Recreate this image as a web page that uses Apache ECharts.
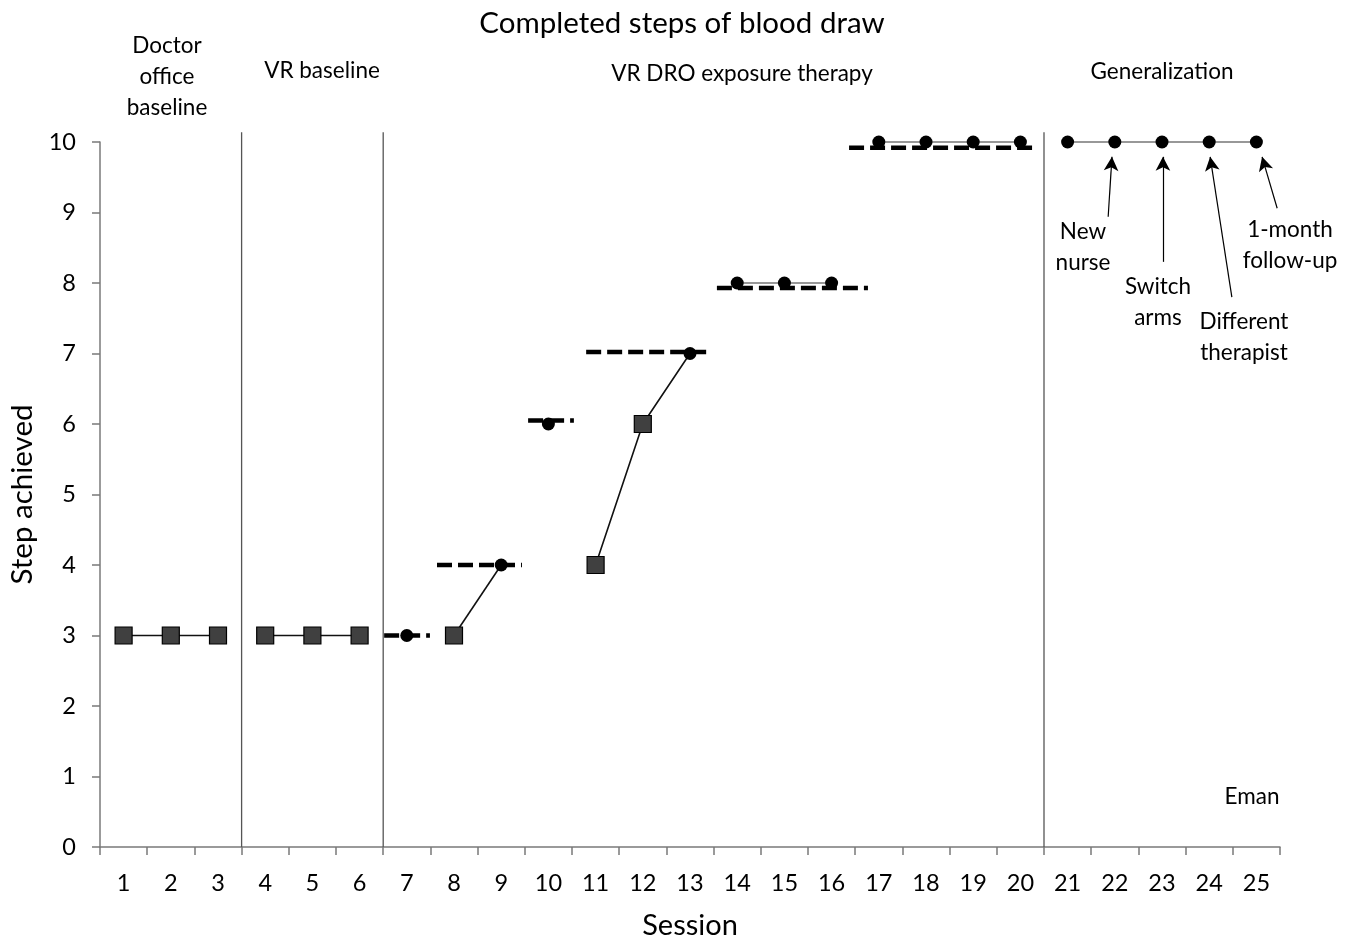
<!DOCTYPE html>
<html>
<head>
<meta charset="utf-8">
<script src="https://cdn.jsdelivr.net/npm/echarts@6/dist/echarts.min.js"></script>
<style>html,body{margin:0;padding:0;background:#fff}#c{width:1354px;height:938px}</style>
</head>
<body>
<div id="c"></div>
<script>
// ---- data ----
const sessions = [1,2,3,4,5,6,7,8,9,10,11,12,13,14,15,16,17,18,19,20,21,22,23,24,25];
const steps    = [3,3,3,3,3,3,3,3,4,6,4,6,7,8,8,8,10,10,10,10,10,10,10,10,10];
const markerKind = ['s','s','s','s','s','s','c','s','c','c','s','s','c','c','c','c','c','c','c','c','c','c','c','c','c'];
const segmentId  = [1,1,1,2,2,2,3,4,4,5,6,6,6,7,7,7,8,8,8,8,9,9,9,9,9];
// criterion (dashed) lines
const critLevel = [3, 4, 6.05, 7.02, 7.93, 9.92];
const critStart = [6.52, 7.64, 9.57, 10.8, 13.57, 16.37];
const critEnd   = [7.49, 9.44, 10.54, 13.38, 16.77, 20.27];
// phase change lines
const phaseBreaks = [3.5, 6.5, 20.5];
const phaseLabels = ['Doctor\noffice\nbaseline', 'VR baseline', 'VR DRO exposure therapy', 'Generalization'];
// annotations
const noteLabels = ['New\nnurse', 'Switch\narms', 'Different\ntherapist', '1-month\nfollow-up'];
const noteTail = [[21.86, 8.94], [23.02, 8.30], [24.48, 7.80], [25.44, 9.06]];
const noteTip  = [[21.94, 9.79], [23.02, 9.79], [24.02, 9.79], [25.12, 9.79]];
const yTicks = [0,1,2,3,4,5,6,7,8,9,10];

const FONT = 'Lato';
const chart = echarts.init(document.getElementById('c'));
const series = [];

// dashed criterion lines
critLevel.forEach((lv, i) => {
  series.push({
    type: 'line', xAxisIndex: 1, symbol: 'none', silent: true, z: 2,
    data: [[critStart[i], lv], [critEnd[i], lv]],
    lineStyle: { color: '#000', width: 4.5, type: [15, 6], cap: 'butt' }
  });
});

// phase change lines
phaseBreaks.forEach(x => {
  series.push({
    type: 'line', xAxisIndex: 1, symbol: 'none', silent: true, z: 1, clip: false,
    data: [[x, 0], [x, 10.14]],
    lineStyle: { color: '#555', width: 1.3 }
  });
});

// data connecting lines, per segment
const segs = [...new Set(segmentId)];
segs.forEach(sid => {
  const pts = [];
  sessions.forEach((s, i) => { if (segmentId[i] === sid) pts.push([s, steps[i]]); });
  if (pts.length < 2) return;
  const light = sid >= 7;
  series.push({
    type: 'line', xAxisIndex: 1, symbol: 'none', silent: true, z: 3, clip: false,
    data: pts,
    lineStyle: { color: light ? '#777' : '#111', width: light ? 1.3 : 1.6 }
  });
});

// markers
series.push({
  type: 'scatter', xAxisIndex: 1, z: 5, symbol: 'rect', symbolSize: 17, clip: false,
  data: sessions.map((s, i) => markerKind[i] === 's' ? [s, steps[i]] : null).filter(d => d),
  itemStyle: { color: '#404040', borderColor: '#000', borderWidth: 1.2, opacity: 1 }
});
series.push({
  type: 'scatter', xAxisIndex: 1, z: 5, symbol: 'circle', symbolSize: 13, clip: false,
  data: sessions.map((s, i) => markerKind[i] === 'c' ? [s, steps[i]] : null).filter(d => d),
  itemStyle: { color: '#000', opacity: 1 }
});

// annotation arrows
series.push({
  type: 'line', xAxisIndex: 1, data: [], symbol: 'none', silent: true,
  markLine: {
    silent: true, animation: false,
    symbol: ['none', 'arrow'], symbolSize: [11, 14],
    label: { show: false },
    lineStyle: { color: '#000', width: 1.2, type: 'solid' },
    data: noteTail.map((t, i) => [{ coord: t }, { coord: noteTip[i] }])
  }
});

const txt = (x, y, s, size, lh) => ({
  type: 'text', x: x, y: y,
  style: { text: s, font: `${size}px ${FONT}`, fill: '#000', textAlign: 'center', textVerticalAlign: 'middle', lineHeight: lh || 31 }
});

chart.setOption({
  animation: false,
  textStyle: { fontFamily: FONT },
  grid: { left: 100, width: 1180, top: 142, height: 705, outerBoundsMode: 'none', containLabel: false },
  xAxis: [
    {
      type: 'category', data: sessions.map(String), boundaryGap: true, position: 'bottom',
      name: 'Session', nameLocation: 'middle', nameGap: 64,
      nameTextStyle: { fontSize: 29, color: '#000', fontFamily: FONT },
      axisLine: { lineStyle: { color: '#7a7a7a', width: 1.5 } },
      axisTick: { show: true, length: 8, alignWithLabel: false, lineStyle: { color: '#7a7a7a', width: 1.5 } },
      axisLabel: { fontSize: 23.5, color: '#000', margin: 24, fontFamily: FONT, interval: 0 },
      splitLine: { show: false }
    },
    { type: 'value', min: 0.5, max: 25.5, show: false }
  ],
  yAxis: {
    type: 'value', min: 0, max: 10, interval: 1,
    name: 'Step achieved', nameLocation: 'middle', nameGap: 62, nameRotate: 90,
    nameTextStyle: { fontSize: 29.5, color: '#000', fontFamily: FONT },
    axisLine: { show: true, lineStyle: { color: '#7a7a7a', width: 1.5 } },
    axisTick: { show: true, length: 8, lineStyle: { color: '#7a7a7a', width: 1.5 } },
    axisLabel: { fontSize: 23.5, color: '#000', margin: 24, fontFamily: FONT,
      formatter: v => yTicks.includes(v) ? String(v) : '' },
    splitLine: { show: false }
  },
  graphic: [
    txt(682, 23, 'Completed steps of blood draw', 29.5),
    txt(167, 77, phaseLabels[0], 22.5),
    txt(322, 71, phaseLabels[1], 22.5),
    txt(742, 74, phaseLabels[2], 22.5),
    txt(1162, 72, phaseLabels[3], 22.5),
    txt(1083, 247, noteLabels[0], 22.5),
    txt(1158, 302, noteLabels[1], 22.5),
    txt(1244, 337, noteLabels[2], 22.5),
    txt(1290, 245, noteLabels[3], 22.5),
    txt(1252, 797, 'Eman', 22.5)
  ],
  series: series
});
</script>
</body>
</html>
